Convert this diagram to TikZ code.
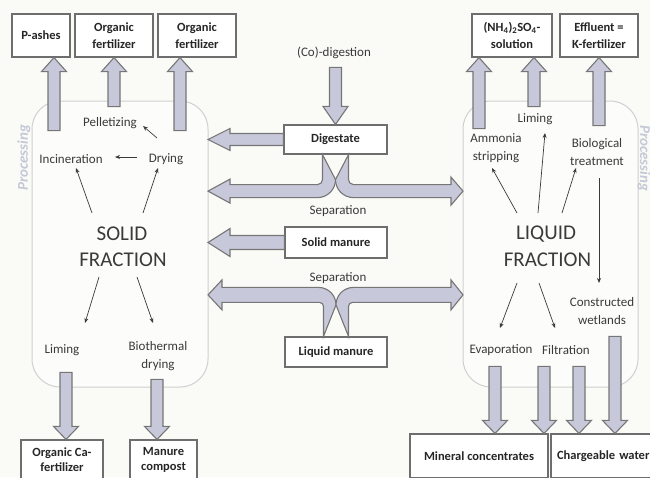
\documentclass[tikz,border=0pt]{standalone}
\usepackage{fontspec}
\setmainfont{Carlito}
\usetikzlibrary{arrows.meta,calc}
\definecolor{bgc}{HTML}{FAFAF7}
\definecolor{panelc}{HTML}{D0D0D0}
\definecolor{arrfill}{HTML}{C8C8DB}
\definecolor{arrdraw}{HTML}{767676}
\definecolor{boxdraw}{HTML}{6E6E6E}
\definecolor{txt}{HTML}{3A3A3A}
\definecolor{procc}{HTML}{C5C8D6}
\newcommand{\vblk}[3]{\draw[blockarrow] ([shift={(-6,#2)}]#1) -- ([shift={(-6,#3)}]#1) -- ([shift={(-12.5,#3)}]#1) -- (#1) -- ([shift={(12.5,#3)}]#1) -- ([shift={(6,#3)}]#1) -- ([shift={(6,#2)}]#1) -- cycle;}
\newcommand{\harr}[5]{\draw[blockarrow] let \p1=(#1), \p2=(#2) in (\x1,\y2+#5pt) -- (\x2+#3pt,\y2+#5pt) -- (\x2+#3pt,\y2+#4pt) -- (\x2,\y2) -- (\x2+#3pt,\y2-#4pt) -- (\x2+#3pt,\y2-#5pt) -- (\x1,\y2-#5pt) -- cycle;}
\begin{document}
\begin{tikzpicture}[x=1pt,y=-1pt,
  outbox/.style={draw=boxdraw, line width=1.2pt, fill=white, font=\bfseries\fontsize{12.5}{17}\selectfont, text=black!85, align=center, inner sep=0pt},
  lbl/.style={font=\fontsize{13}{18}\selectfont, text=txt, align=center, inner sep=1pt},
  big/.style={font=\fontsize{21}{24}\selectfont, text=txt, inner sep=1pt},
  tharr/.style={-{Stealth[length=5pt,width=4pt]}, draw=txt, line width=0.7pt},
  blockarrow/.style={fill=arrfill, draw=arrdraw, line width=1.1pt, line join=miter},
  proc/.style={font=\itshape\bfseries\fontsize{15}{15}\selectfont, text=procc},
  panelbox/.style={draw=panelc, line width=1pt, rounded corners=28pt, fill=white!50!bgc, inner sep=0pt, outer sep=0pt}
]
\useasboundingbox (0,0) rectangle (650,477);
\fill[bgc] (0,0) rectangle (650,477);
\clip (0,0) rectangle (650,477);

% panels
\node[panelbox, minimum width=176, minimum height=286] (lpanel) at (120,244) {};
\node[panelbox, minimum width=175, minimum height=286] (rpanel) at (550.5,244) {};
\node[proc, rotate=90] (procL) at (24,158) {Processing};
\node[proc, rotate=-90] (procR) at (644,158) {Processing};

% top boxes
\node[outbox, minimum width=58, minimum height=43] (pash) at (41,35.5) {P-ashes};
\node[outbox, minimum width=78, minimum height=43] (of1) at (114,35.5) {Organic\\fertilizer};
\node[outbox, minimum width=78, minimum height=43] (of2) at (197,35.5) {Organic\\fertilizer};
\node[outbox, minimum width=80, minimum height=43] (nh) at (512,35.5) {(NH\textsubscript{4})\textsubscript{2}SO\textsubscript{4}-\\solution};
\node[outbox, minimum width=78, minimum height=43] (eff) at (599,35.5) {Effluent =\\K-fertilizer};

% centre
\node[lbl] (codig) at (334,53) {(Co)-digestion};
\node[outbox, minimum width=103, minimum height=29] (dig) at (335.5,139.5) {Digestate};
\node[lbl] (sep1) at (338,211) {Separation};
\node[outbox, minimum width=102, minimum height=31] (sm) at (336,242.5) {Solid manure};
\node[lbl] (sep2) at (338,278) {Separation};
\node[outbox, minimum width=102, minimum height=30] (lm) at (336,352) {Liquid manure};

% bottom boxes
\node[outbox, font=\bfseries\fontsize{12.5}{15}\selectfont, minimum width=82, minimum height=40] (orgca) at (62,460) {Organic Ca-\\fertilizer};
\node[outbox, font=\bfseries\fontsize{12.5}{15}\selectfont, minimum width=67, minimum height=40] (mc) at (163.5,460) {Manure\\compost};
\node[outbox, minimum width=138, minimum height=44] (mincon) at (479,456) {Mineral concentrates};
\node[outbox, inner xsep=6pt, text width=106pt, align=left, minimum width=118, minimum height=44] (charge) at (610,456) {Chargeable water};

% left panel labels
\node[lbl] (pell) at (110,123) {Pelletizing};
\node[lbl] (incin) at (71,159) {Incineration};
\node[lbl] (dry) at (166,159) {Drying};
\node[big] (solid) at (122,234) {SOLID};
\node[big] (fracL) at (123,260) {FRACTION};
\node[lbl] (limL) at (62,350) {Liming};
\node[lbl] (bio) at (158,356.5) {Biothermal\\drying};

% right panel labels
\node[lbl] (limR) at (535,119) {Liming};
\node[lbl] (amm) at (496,148.5) {Ammonia\\stripping};
\node[lbl] (biot) at (597,152.5) {Biological\\treatment};
\node[big] (liq) at (546,234) {LIQUID};
\node[big] (fracR) at (547.5,260) {FRACTION};
\node[lbl] (constr) at (602,311) {Constructed\\wetlands};
\node[lbl] (evap) at (501,350) {Evaporation};
\node[lbl] (filt) at (566,350) {Filtration};

% thin arrows
\draw[tharr] ([shift={(-30,-21)}]solid.center) -- ([shift={(5,9)}]incin.center);
\draw[tharr] ([shift={(21,-21)}]solid.center) -- ([shift={(-8,9)}]dry.center);
\draw[tharr] ([shift={(-29,-2)}]dry.center) -- ([shift={(44,-2)}]incin.center);
\draw[tharr] ([shift={(-9,-21)}]dry.center) -- ([shift={(33,3)}]pell.center);
\draw[tharr] ([shift={(-24,17)}]fracL.center) -- ([shift={(23,-27)}]limL.center);
\draw[tharr] ([shift={(14,17)}]fracL.center) -- ([shift={(-5,-33.5)}]bio.center);
\draw[tharr] ([shift={(-29,-21)}]liq.center) -- ([shift={(-4,19.5)}]amm.center);
\draw[tharr] ([shift={(-8,-21)}]liq.center) -- ([shift={(10,14)}]limR.center);
\draw[tharr] ([shift={(16,-21)}]liq.center) -- ([shift={(-21,15.5)}]biot.center);
\draw[tharr] ([shift={(2,25.5)}]biot.center) -- ([shift={(-3,-28)}]constr.center);
\draw[tharr] ([shift={(-30.5,23)}]fracR.center) -- ([shift={(-1,-22)}]evap.center);
\draw[tharr] ([shift={(-8.5,23)}]fracR.center) -- ([shift={(-11,-22)}]filt.center);

% up block arrows
\coordinate (tP) at (54,0 |- pash.south);
\coordinate (tO1) at (114,0 |- of1.south);
\coordinate (tO2) at (180,0 |- of2.south);
\coordinate (tN1) at (479,0 |- nh.south);
\coordinate (tN2) at (534,0 |- nh.south);
\coordinate (tE) at (599,0 |- eff.south);
\vblk{tP}{73}{14}
\vblk{tO1}{49}{14}
\vblk{tO2}{73}{14}
\vblk{tN1}{71}{14}
\vblk{tN2}{49}{14}
\vblk{tE}{68}{14}

% down block arrows
\vblk{dig.north}{-57}{-18}
\coordinate (bCa) at (66,0 |- orgca.north);
\coordinate (bMc) at (157,0 |- mc.north);
\coordinate (bM1) at (495,0 |- mincon.north);
\coordinate (bM2) at (544,0 |- mincon.north);
\coordinate (bC1) at (579,0 |- charge.north);
\coordinate (bC2) at (615,0 |- charge.north);
\vblk{bCa}{-67}{-13}
\vblk{bMc}{-60}{-13}
\vblk{bM1}{-67}{-13}
\vblk{bM2}{-67}{-13}
\vblk{bC1}{-67}{-13}
\vblk{bC2}{-97}{-13}

% horizontal arrows to the solid fraction
\harr{dig.west}{lpanel.east |- dig.center}{22}{11}{6}
\harr{sm.west}{lpanel.east |- sm.center}{22}{14}{7}

% separation of digestate
\draw[blockarrow] let \p1=(dig.south), \p2=(lpanel.east) in
  (\x1-13pt,\y1) -- (\x1-13pt,\y1-25pt) .. controls (\x1-13pt,\y1-27.76pt) and (\x1-15.24pt,\y1-30pt) .. (\x1-18pt,\y1-30pt)
  -- (\x2+22pt,\y1-30pt) -- (\x2+22pt,\y1-24.5pt) -- (\x2,\y1-36.5pt) -- (\x2+22pt,\y1-48.5pt) -- (\x2+22pt,\y1-43pt)
  -- (\x1-18pt,\y1-43pt) .. controls (\x1-8.06pt,\y1-43pt) and (\x1,\y1-34.94pt) .. (\x1,\y1-25pt) -- cycle;
\draw[blockarrow] let \p1=(dig.south), \p3=(rpanel.west) in
  (\x1+13pt,\y1) -- (\x1+13pt,\y1-25pt) .. controls (\x1+13pt,\y1-27.76pt) and (\x1+15.24pt,\y1-30pt) .. (\x1+18pt,\y1-30pt)
  -- (\x3-12pt,\y1-30pt) -- (\x3-12pt,\y1-22.5pt) -- (\x3,\y1-36.5pt) -- (\x3-12pt,\y1-50.5pt) -- (\x3-12pt,\y1-43pt)
  -- (\x1+18pt,\y1-43pt) .. controls (\x1+8.06pt,\y1-43pt) and (\x1,\y1-34.94pt) .. (\x1,\y1-25pt) -- cycle;

% separation of liquid manure
\draw[blockarrow] let \p1=(lm.north), \p2=(lpanel.east) in
  (\x1-12.5pt,\y1) -- (\x1-12.5pt,\y1+30pt) .. controls (\x1-12.5pt,\y1+32.21pt) and (\x1-14.29pt,\y1+34pt) .. (\x1-16.5pt,\y1+34pt)
  -- (\x2+14pt,\y1+34pt) -- (\x2+14pt,\y1+26.5pt) -- (\x2,\y1+41.5pt) -- (\x2+14pt,\y1+56.5pt) -- (\x2+14pt,\y1+49pt)
  -- (\x1-17.5pt,\y1+49pt) .. controls (\x1-7.83pt,\y1+49pt) and (\x1,\y1+41.17pt) .. (\x1,\y1+31.5pt) -- cycle;
\draw[blockarrow] let \p1=(lm.north), \p3=(rpanel.west) in
  (\x1+12.5pt,\y1) -- (\x1+12.5pt,\y1+30pt) .. controls (\x1+12.5pt,\y1+32.21pt) and (\x1+14.29pt,\y1+34pt) .. (\x1+16.5pt,\y1+34pt)
  -- (\x3-12pt,\y1+34pt) -- (\x3-12pt,\y1+26.5pt) -- (\x3,\y1+41.5pt) -- (\x3-12pt,\y1+56.5pt) -- (\x3-12pt,\y1+49pt)
  -- (\x1+17.5pt,\y1+49pt) .. controls (\x1+7.83pt,\y1+49pt) and (\x1,\y1+41.17pt) .. (\x1,\y1+31.5pt) -- cycle;
\end{tikzpicture}
\end{document}
